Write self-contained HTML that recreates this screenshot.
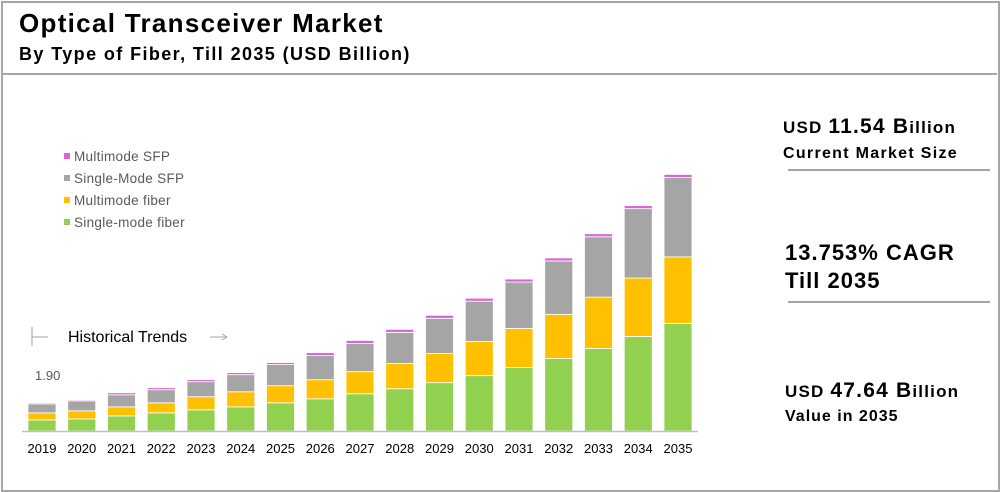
<!DOCTYPE html>
<html><head><meta charset="utf-8"><style>
body{margin:0;background:#fff;font-family:"Liberation Sans",Arial,sans-serif}
#wrap{position:relative;width:1000px;height:492px;overflow:hidden}
.t{position:absolute;white-space:nowrap;font-weight:bold;color:#000}
</style></head><body>
<div id="wrap">
<div style="position:absolute;left:1px;top:1px;width:995px;height:487px;border:2px solid #a6a6a6"></div>
<div style="position:absolute;left:3px;top:73px;width:994px;height:2px;background:#a6a6a6"></div>
<div class="t" style="left:19px;top:8px;font-size:26px;letter-spacing:1.3px">Optical Transceiver Market</div>
<div class="t" style="left:19px;top:44px;font-size:18px;letter-spacing:1.4px">By Type of Fiber, Till 2035 (USD Billion)</div>

<div class="t" style="left:783px;top:115px;font-size:17px;letter-spacing:1.2px">USD <span style="font-size:21px">11.54 B</span>illion</div>
<div class="t" style="left:783px;top:145px;font-size:16px;letter-spacing:1.3px">Current Market Size</div>
<div style="position:absolute;left:788px;top:169px;width:202px;height:2px;background:#a6a6a6"></div>
<div class="t" style="left:785px;top:239px;font-size:22px;line-height:28px;letter-spacing:1px">13.753% CAGR<br>Till 2035</div>
<div style="position:absolute;left:788px;top:301px;width:202px;height:2px;background:#a6a6a6"></div>
<div class="t" style="left:785px;top:379px;font-size:17px;letter-spacing:1.2px">USD <span style="font-size:21px">47.64 B</span>illion</div>
<div class="t" style="left:785px;top:408px;font-size:16px;letter-spacing:1px">Value in 2035</div>

<svg id="chart" width="1000" height="492" style="position:absolute;left:0;top:0">
<g font-size="13.5" fill="#595959" letter-spacing="0.3">
<g><rect x="64" y="153" width="6" height="6" fill="#d966d6"/><text x="74" y="161">Multimode SFP</text></g>
<g><rect x="64" y="175" width="6" height="6" fill="#a5a5a5"/><text x="74" y="183">Single-Mode SFP</text></g>
<g><rect x="64" y="197" width="6" height="6" fill="#ffc000"/><text x="74" y="205">Multimode fiber</text></g>
<g><rect x="64" y="219" width="6" height="6" fill="#92d050"/><text x="74" y="227">Single-mode fiber</text></g>
</g>
<g>
<line x1="32" y1="327" x2="32" y2="346" stroke="#a6a6a6" stroke-width="1"/>
<line x1="32" y1="337" x2="48" y2="337" stroke="#a6a6a6" stroke-width="1"/>
<text x="68" y="342" font-size="16" fill="#000">Historical Trends</text>
<line x1="210" y1="337" x2="226" y2="337" stroke="#a6a6a6" stroke-width="1"/>
<path d="M222 334 L227 337 L222 340" fill="none" stroke="#a6a6a6"/>
</g>
<text x="35" y="380" font-size="13" fill="#595959">1.90</text>
<g id="bars"></g>
<line x1="22" y1="431.5" x2="698" y2="431.5" stroke="#bfbfbf" stroke-width="1.5"/>
<g id="xlabels" font-size="13" fill="#000" text-anchor="middle"></g>
</svg>
</div>
<script>
const years=["2019","2020","2021","2022","2023","2024","2025","2026","2027","2028","2029","2030","2031","2032","2033","2034","2035"];
const singleModeFiber=[2.05,2.23,2.79,3.35,3.91,4.46,5.21,5.95,6.88,7.81,8.93,10.23,11.72,13.39,15.25,17.48,19.90];
const multimodeFiber=[1.30,1.49,1.67,1.86,2.42,2.79,3.16,3.53,4.09,4.65,5.39,6.32,7.25,8.18,9.49,10.79,12.28];
const singleModeSFP=[1.67,1.86,2.23,2.42,2.79,3.16,3.91,4.46,5.21,5.77,6.51,7.44,8.56,9.86,11.16,12.83,14.69];
const multimodeSFP=[0.19,0.19,0.37,0.37,0.37,0.37,0.37,0.56,0.56,0.56,0.56,0.56,0.56,0.56,0.56,0.56,0.56];
const series=[["single-mode-fiber",singleModeFiber,"#92d050"],["multimode-fiber",multimodeFiber,"#ffc000"],["single-mode-sfp",singleModeSFP,"#a5a5a5"],["multimode-sfp",multimodeSFP,"#d966d6"]];
const NS="http://www.w3.org/2000/svg";
const baseY=431,k=5.41,x0=42,pitch=39.75,bw=28;
const xScale=i=>x0+i*pitch;
const yScale=v=>baseY-v*k;
const bars=document.getElementById('bars'),xl=document.getElementById('xlabels');
years.forEach((yr,i)=>{
  let cum=0;
  series.forEach(([nm,arr,col])=>{
    const v=arr[i];
    const r=document.createElementNS(NS,'rect');
    
    
    const yTop=yScale(cum+v),yBot=yScale(cum);
    r.setAttribute('x',xScale(i)-bw/2);
    r.setAttribute('y',yTop);
    r.setAttribute('width',bw);
    r.setAttribute('height',Math.max(0,yBot-yTop));
    r.setAttribute('fill',col);
    r.setAttribute('stroke','#fff');
    r.setAttribute('stroke-width','0.8');
    bars.appendChild(r);
    cum+=v;
  });
  const t=document.createElementNS(NS,'text');
  
  
  t.setAttribute('x',xScale(i));
  t.setAttribute('y',453);
  t.textContent=yr;
  xl.appendChild(t);
});
</script>
</body></html>
